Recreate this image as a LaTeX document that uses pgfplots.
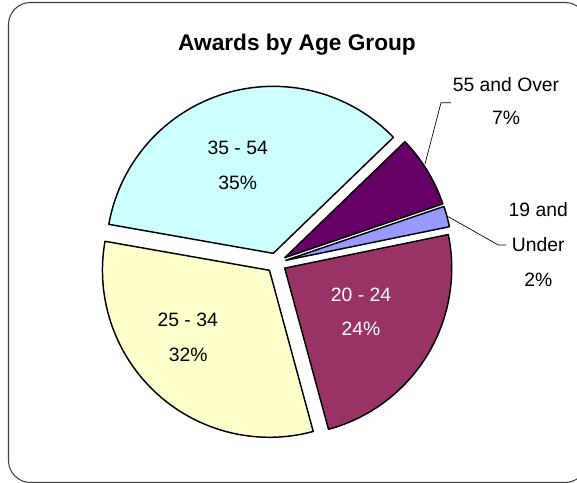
\documentclass[border=0pt]{standalone}
\usepackage{pgfplots}
\pgfplotsset{compat=1.18}
\usepackage{fontspec}
\setmainfont{Liberation Sans}
\definecolor{cU}{HTML}{9999FF}
\definecolor{cA}{HTML}{993366}
\definecolor{cB}{HTML}{FFFFCC}
\definecolor{cC}{HTML}{CCFFFF}
\definecolor{cO}{HTML}{660066}
% pie geometry in picture units (1 unit = 0.75pt)
\def\cx{276.2}\def\cy{219.1}\def\R{167}\def\dd{10}
\gdef\curang{18.8}
\newcommand\pieslice[2]{% #1 percent, #2 colour
  \pgfmathsetmacro\pa{\curang}%
  \pgfmathsetmacro\pb{\curang-3.6*#1}%
  \pgfmathsetmacro\pmid{\curang-1.8*#1}%
  \pgfmathsetmacro\tx{\cx+\dd*cos(\pmid)}%
  \pgfmathsetmacro\ty{\cy+\dd*sin(\pmid)}%
  \edef\doslice{\noexpand\addplot[draw=black, line width=1.1pt, line join=round, fill=#2, domain=\pb:\pa, samples=90] ({\tx+\R*cos(x)},{\ty+\R*sin(x)}) -- (axis cs:\tx,\ty) -- cycle;}%
  \doslice
  \xdef\curang{\pb}%
}
\begin{document}
\begin{tikzpicture}
\begin{axis}[at={(0,0)}, anchor=south west, scale only axis,
  width=432.75pt, height=361.5pt,
  xmin=0, xmax=577, ymin=0, ymax=482,
  axis lines=none, clip=true]
% data (percent), clockwise
\pieslice{2}{cU}   % 19 and Under
\pieslice{24}{cA}  % 20 - 24
\pieslice{32}{cB}  % 25 - 34
\pieslice{35}{cC}  % 35 - 54
\pieslice{7}{cO}   % 55 and Over
% leader lines
\addplot[black, line width=0.5pt] coordinates {(425,318) (441,379.3) (451,379.3)};
\addplot[black, line width=0.5pt] coordinates {(448.3,265.3) (498.3,237) (506,237)};
% border
\draw[rounded corners=16.5pt, color=black!75, line width=0.8pt] (axis cs:8.5,-0.5) rectangle (axis cs:587,479.5);
% title
\node[font=\bfseries\fontsize{17}{19}\selectfont] at (axis cs:297,437) {Awards by Age Group};
% labels
\begin{scope}[every node/.style={font=\fontsize{14.5}{16}\selectfont}]
\node at (axis cs:237.7,333.7) {35 - 54};
\node at (axis cs:237.7,298.7) {35\%};
\node at (axis cs:187.7,162) {25 - 34};
\node at (axis cs:188.3,127) {32\%};
\node[text=white] at (axis cs:361,187) {20 - 24};
\node[text=white] at (axis cs:361,152.7) {24\%};
\node at (axis cs:506,397) {55 and Over};
\node at (axis cs:506,363.7) {7\%};
\node at (axis cs:538.3,272) {19 and};
\node at (axis cs:538.3,237) {Under};
\node at (axis cs:538.3,202) {2\%};
\end{scope}
\end{axis}
\pgfresetboundingbox
\useasboundingbox (0,0) rectangle (432.75pt,361.5pt);
\end{tikzpicture}
\end{document}
